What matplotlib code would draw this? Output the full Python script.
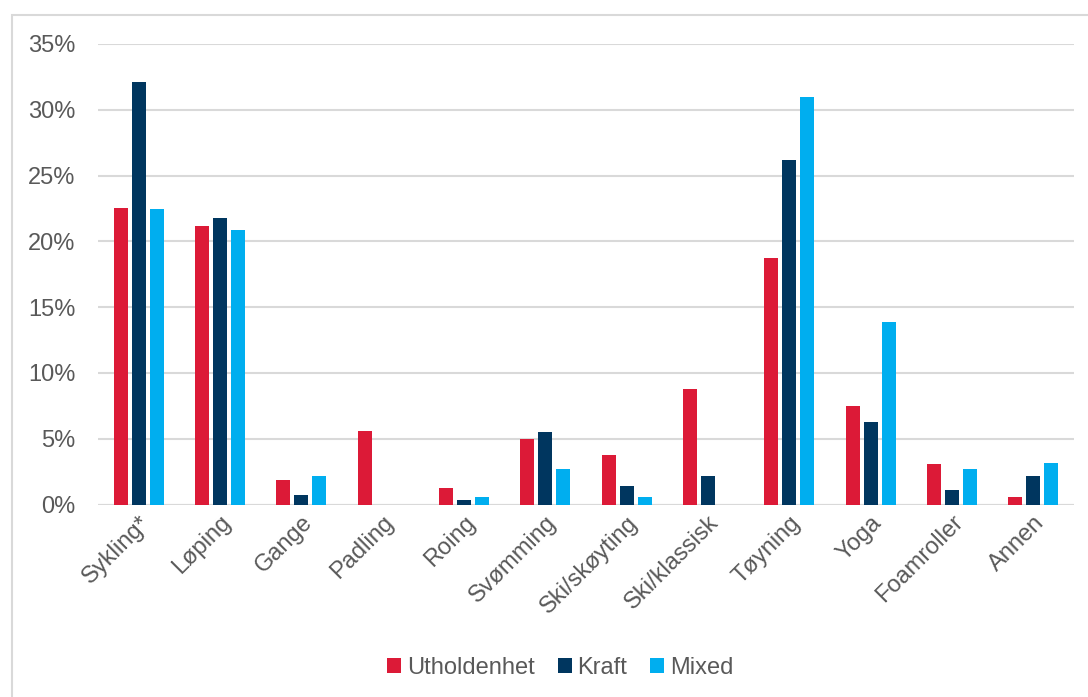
import numpy as np
import matplotlib.pyplot as plt
from matplotlib.patches import Rectangle
from matplotlib.ticker import PercentFormatter

plt.rcParams['font.family'] = ['Liberation Sans', 'DejaVu Sans']

# Data (% of respondents)
categories = ["Sykling*", "Løping", "Gange", "Padling", "Roing", "Svømming",
              "Ski/skøyting", "Ski/klassisk", "Tøyning", "Yoga", "Foamroller", "Annen"]
utholdenhet = [22.5, 21.2, 1.9, 5.6, 1.25, 5.0, 3.75, 8.75, 18.7, 7.5, 3.1, 0.6]
kraft = [32.1, 21.8, 0.75, 0, 0.35, 5.5, 1.45, 2.2, 26.2, 6.3, 1.1, 2.2]
mixed = [22.45, 20.9, 2.15, 0, 0.55, 2.7, 0.55, 0, 31.0, 13.9, 2.7, 3.2]

series = [("Utholdenhet", utholdenhet, "#DC1A37"),
          ("Kraft", kraft, "#00365F"),
          ("Mixed", mixed, "#00AEEF")]

text_color = "#595959"
grid_color = "#D9D9D9"

fig = plt.figure(figsize=(10.88, 6.97), dpi=100)
ax = fig.add_axes([0.090, 0.276, 0.897, 0.661])

x = np.arange(len(categories))
step = 0.221
width = 0.172
for i, (name, vals, col) in enumerate(series):
    ax.bar(x + (i - 1) * step, vals, width, color=col, label=name, zorder=3)

ax.set_xlim(-0.5, len(categories) - 0.5)
ax.set_ylim(0, 35)
ax.set_yticks(np.arange(0, 36, 5))
ax.yaxis.set_major_formatter(PercentFormatter(decimals=0))
ax.grid(axis='y', color=grid_color, linewidth=1.5, zorder=0)
for s in ax.spines.values():
    s.set_visible(False)
ax.axhline(0, color=grid_color, linewidth=1.5, zorder=2)

ax.tick_params(axis='y', length=0, pad=16, labelsize=17, labelcolor=text_color)
ax.tick_params(axis='x', length=0, pad=5, labelsize=17, labelcolor=text_color)
ax.set_xticks(x)
ax.set_xticklabels(categories, rotation=45, ha='right', rotation_mode='anchor')

# light frame around the chart area
fig.patches.append(Rectangle((0.0106, -0.05), 1.2, 0.979 + 0.05, transform=fig.transFigure,
                             fill=False, edgecolor=grid_color, linewidth=1.5))

leg = fig.legend(loc='center', bbox_to_anchor=(0.515, 0.042), ncol=3, frameon=False,
                 fontsize=17, handlelength=0.6, handleheight=0.6, handletextpad=0.25,
                 columnspacing=0.95)
for t in leg.get_texts():
    t.set_color(text_color)

fig.savefig("out.png", dpi=100)
